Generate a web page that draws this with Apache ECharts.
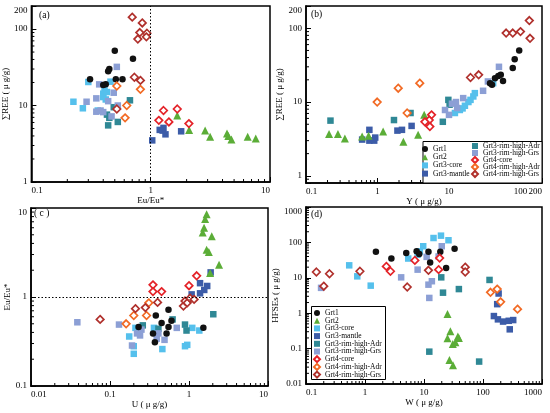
<!DOCTYPE html>
<html>
<head>
<meta charset="utf-8">
<script src="https://cdn.jsdelivr.net/npm/echarts/dist/echarts.min.js"></script>
<style>
html, body { margin: 0; padding: 0; background: #fff; }
#chart { width: 550px; height: 413px; }
</style>
</head>
<body>
<div id="chart"></div>
<script>
// group names, in legend order
const groups = ['Grt1', 'Grt2', 'Grt3-core', 'Grt3-mantle', 'Grt3-rim-high-Adr',
    'Grt3-rim-high-Grs', 'Grt4-core', 'Grt4-rim-high-Adr', 'Grt4-rim-high-Grs'];

// axis extents
const aX = [0.1, 10], aY = [1, 200];
const bX = [0.1, 200], bY = [0.8, 200];
const cX = [0.01, 10], cY = [0.1, 10];
const dX = [0.1, 1000], dY = [0.01, 1000];

// (a) Eu/Eu* vs ΣREE
const a_Grt1 = [[0.50, 52], [0.71, 41], [0.45, 30], [0.44, 28], [0.31, 22], [0.51, 22], [0.58, 22], [0.42, 19], [0.40, 18.5]];
const a_Grt2 = [[1.67, 7.4], [2.1, 4.8], [2.86, 4.7], [3.15, 3.9], [4.36, 4.3], [4.47, 4.0], [4.75, 3.6], [6.5, 3.9], [7.6, 3.7]];
const a_Grt3core = [[0.225, 11.2], [0.27, 9.2], [0.30, 20.3], [0.46, 20.5], [0.41, 16.3], [0.40, 14.3], [0.40, 12.9], [0.42, 12], [0.36, 8.6], [0.43, 15]];
const a_Grt3mantle = [[1.03, 3.5], [1.19, 4.8], [1.28, 5.1], [1.26, 4.7], [1.33, 4.2], [1.80, 4.6]];
const a_Grt3Adr = [[0.67, 11.7], [0.49, 9.5], [0.43, 7.6], [0.45, 6.9], [0.44, 5.5], [0.53, 6.1]];
const a_Grt3Grs = [[0.52, 32], [0.37, 18.9], [0.35, 12.4], [0.29, 11.2], [0.44, 11.4], [0.49, 14.7], [0.35, 8.3], [0.38, 8.6], [0.53, 10], [0.47, 7.2], [0.40, 8.2]];
const a_Grt4core = [[1.28, 8.6], [1.17, 6.4], [1.42, 6.1], [1.67, 9.0], [2.09, 5.8]];
const a_Grt4Adr = [[0.52, 18], [0.82, 16.3], [0.63, 10], [0.61, 6.9]];
const a_Grt4Grs = [[0.70, 143], [0.85, 120], [0.81, 90], [0.93, 88], [0.92, 79], [0.78, 74], [0.73, 23.4], [0.82, 21.3], [0.52, 9.0]];

// (b) Y vs ΣREE
const b_Grt1 = [[96, 50], [83, 38], [78, 29], [49, 22.6], [53, 23.4], [57, 19.2], [44, 21], [40, 17.1], [37.5, 18]];
const b_Grt2 = [[0.21, 3.7], [0.28, 3.7], [0.35, 3.2], [0.61, 3.4], [0.75, 3.5], [1.2, 4.0], [2.3, 2.9], [3.7, 3.6], [4.5, 6.7]];
const b_Grt3core = [[12.1, 7.1], [14.2, 7.8], [15.5, 8.2], [16.7, 8.9], [18.7, 10], [20, 10.7], [21.9, 11.9], [23, 13.2], [41.5, 18]];
const b_Grt3mantle = [[0.61, 3.1], [0.77, 4.2], [0.77, 3.0], [0.93, 3.3], [0.9, 3.0], [1.9, 4.1], [2.2, 4.2], [3.0, 4.75]];
const b_Grt3Adr = [[0.22, 5.6], [1.7, 5.7], [2.9, 7.1], [8.2, 5.4], [9.8, 10.7], [10.2, 9.2]];
const b_Grt3Grs = [[50, 30], [35, 19], [30, 14.2], [15.8, 11.3], [12.5, 10], [8.8, 7.8], [10, 6.7], [13, 8.3], [11, 9.5]];
const b_Grt4core = [[4.9, 5.2], [5.7, 6.7], [5.3, 5.7], [5.4, 4.65], [4.6, 5.4]];
const b_Grt4Adr = [[0.99, 10], [1.95, 15.4], [3.9, 18], [2.6, 7.1]];
const b_Grt4Grs = [[133, 127], [63, 86], [78, 86], [100, 90], [136, 73], [20, 21.5], [26, 23.4]];

// (c) U vs Eu/Eu*
const c_Grt1 = [[0.38, 0.62], [0.55, 0.72], [0.45, 0.51], [0.60, 0.54], [0.35, 0.39], [0.55, 0.46], [0.52, 0.39], [0.37, 0.31], [1.52, 0.45], [0.23, 0.46]];
const c_Grt2 = [[1.67, 8.5], [1.6, 7.5], [1.55, 6.0], [1.49, 5.3], [1.94, 4.8], [1.67, 3.4], [1.78, 3.2], [2.4, 2.3], [1.85, 1.86]];
const c_Grt3core = [[0.21, 0.45], [0.175, 0.36], [0.20, 0.28], [0.20, 0.23], [0.36, 0.45], [0.46, 0.26], [0.89, 0.28], [0.95, 0.29], [1.1, 0.45], [1.35, 0.42]];
const c_Grt3mantle = [[1.88, 1.89], [1.38, 1.43], [1.7, 1.33], [1.08, 1.07], [1.38, 1.1], [1.56, 1.2]];
const c_Grt3Adr = [[0.26, 0.48], [0.41, 0.44], [0.62, 0.56], [0.89, 0.49], [0.93, 0.42], [2.03, 0.64]];
const c_Grt3Grs = [[0.0386, 0.52], [0.13, 0.49], [0.19, 0.285], [0.22, 0.39], [0.25, 0.43], [0.39, 0.34], [0.41, 0.39], [0.49, 0.33], [0.70, 0.45], [0.24, 0.37]];
const c_Grt4core = [[1.25, 1.73], [1.0, 1.34], [0.35, 1.37], [0.35, 1.15], [0.45, 1.15]];
const c_Grt4Adr = [[0.16, 0.50], [0.20, 0.62], [0.29, 0.62], [0.31, 0.86]];
const c_Grt4Grs = [[0.075, 0.56], [0.21, 0.74], [0.28, 0.76], [0.40, 0.87], [0.85, 0.79], [0.89, 0.90], [0.95, 0.86], [1.03, 0.97], [1.16, 0.94]];

// (d) W vs HFSEs
const d_Grt1 = [[1.53, 54], [2.8, 35], [5.0, 50], [7.5, 56], [8.3, 47], [11.9, 54], [12.7, 27], [18.9, 54], [33, 66], [23.7, 19]];
const d_Grt2 = [[25, 0.95], [28, 0.31], [25, 0.195], [37.5, 0.22], [30.8, 0.135], [34, 0.15], [27, 0.048], [31, 0.034], [39, 0.2]];
const d_Grt3core = [[0.54, 22.5], [0.74, 11], [1.25, 6.0], [5.4, 35], [8.5, 56], [9.7, 78], [7.8, 45], [14.5, 133], [19.4, 155], [26, 115]];
const d_Grt3mantle = [[184, 3.6], [174, 1.8], [153, 0.83], [179, 0.67], [219, 0.58], [273, 0.61], [325, 0.64], [284, 0.35]];
const d_Grt3Adr = [[19.6, 10.3], [21, 3.8], [39, 4.8], [129, 8.7], [12.3, 0.082], [86, 0.043]];
const d_Grt3Grs = [[0.18, 5.2], [4.1, 10.3], [7.8, 17], [11.1, 39], [20, 78], [13.6, 8], [11.9, 6.4], [12.3, 2.7], [17.7, 40]];
const d_Grt4core = [[2.3, 21], [2.7, 15.3], [7.0, 31], [18.4, 36], [17.7, 17]];
const d_Grt4Adr = [[134, 3.9], [174, 4.8], [199, 2.1], [385, 1.3]];
const d_Grt4Grs = [[0.15, 14.6], [0.25, 13], [0.2, 5.8], [0.82, 15.3], [5.2, 5.5], [50, 20], [50, 14.6], [11.9, 16.3]];

const FONT = '"Liberation Serif", "DejaVu Serif", serif';

// marker look per group
const STYLE = {
    'Grt1': { symbol: 'circle', size: 6.5, color: '#111111' },
    'Grt2': { symbol: 'triangle', size: 8, color: '#5bad37' },
    'Grt3-core': { symbol: 'rect', size: 6.5, color: '#55c0ec' },
    'Grt3-mantle': { symbol: 'rect', size: 6.5, color: '#3c5ca8' },
    'Grt3-rim-high-Adr': { symbol: 'rect', size: 6.5, color: '#2f8895' },
    'Grt3-rim-high-Grs': { symbol: 'rect', size: 6.5, color: '#8c9fd5' },
    'Grt4-core': { symbol: 'diamond', size: 7.5, color: '#e42228', hollow: true },
    'Grt4-rim-high-Adr': { symbol: 'diamond', size: 7.5, color: '#f26a24', hollow: true },
    'Grt4-rim-high-Grs': { symbol: 'diamond', size: 7.5, color: '#b0302c', hollow: true }
};

const panels = [
    { x: aX, y: aY, xName: 'Eu/Eu*', yName: '∑REE ( μ g/g)', xGap: 10, yGap: 11, label: '(a)',
      sets: [a_Grt1, a_Grt2, a_Grt3core, a_Grt3mantle, a_Grt3Adr, a_Grt3Grs, a_Grt4core, a_Grt4Adr, a_Grt4Grs] },
    { x: bX, y: bY, xName: 'Y ( μ g/g)', yName: '∑REE ( μ g/g)', xGap: 6, yGap: 8, label: '(b)',
      sets: [b_Grt1, b_Grt2, b_Grt3core, b_Grt3mantle, b_Grt3Adr, b_Grt3Grs, b_Grt4core, b_Grt4Adr, b_Grt4Grs] },
    { x: cX, y: cY, xName: 'U ( μ g/g)', yName: 'Eu/Eu*', xGap: 11, yGap: 17, label: '( c )',
      sets: [c_Grt1, c_Grt2, c_Grt3core, c_Grt3mantle, c_Grt3Adr, c_Grt3Grs, c_Grt4core, c_Grt4Adr, c_Grt4Grs] },
    { x: dX, y: dY, xName: 'W ( μ g/g)', yName: 'HFSEs ( μ g/g)', xGap: 12, yGap: 14, label: '(d)',
      sets: [d_Grt1, d_Grt2, d_Grt3core, d_Grt3mantle, d_Grt3Adr, d_Grt3Grs, d_Grt4core, d_Grt4Adr, d_Grt4Grs] }
];

const grids = [
    { left: 31, top: 6, width: 239, height: 176 },
    { left: 306, top: 6, width: 236, height: 177 },
    { left: 31, top: 208, width: 237, height: 178 },
    { left: 306, top: 207, width: 236, height: 177 }
];

// only decades (and the 200 end value) get a label
function logLabel(v) {
    const e = Math.log10(v);
    if (Math.abs(e - Math.round(e)) < 1e-6 || Math.abs(v - 200) < 1e-6) {
        return String(+v.toPrecision(4));
    }
    return '';
}

function axis(gi, range, name, gap, isX) {
    return {
        type: 'log', logBase: 10, gridIndex: gi, min: range[0], max: range[1],
        name: name, nameLocation: 'middle', nameGap: gap,
        nameTextStyle: { fontFamily: FONT, fontSize: 9, color: '#000' },
        axisLine: { show: true, lineStyle: { color: '#000', width: 1.5 } },
        axisTick: { inside: true, length: 5, lineStyle: { color: '#000', width: 1 } },
        axisLabel: {
            fontFamily: FONT, fontSize: 9, color: '#000', margin: 4,
            formatter: logLabel, showMinLabel: true, showMaxLabel: true,
            alignMinLabel: isX ? 'left' : undefined,
            alignMaxLabel: isX ? 'right' : undefined,
            verticalAlignMaxLabel: isX ? undefined : 'top'
        },
        splitLine: { show: false }
    };
}

// small 2..9 ticks inside each log axis
function minorValues(lo, hi) {
    const out = [];
    for (let e = Math.floor(Math.log10(lo)); e <= Math.ceil(Math.log10(hi)); e++) {
        for (let k = 2; k <= 9; k++) {
            const v = +(k * Math.pow(10, e)).toPrecision(3);
            if (v > lo * 1.0001 && v < hi * 0.9999) out.push(v);
        }
    }
    return out;
}

function minorTicks(gi, xr, yr) {
    const data = minorValues(xr[0], xr[1]).map(v => [v, yr[0], 0])
        .concat(minorValues(yr[0], yr[1]).map(v => [xr[0], v, 1]));
    return {
        type: 'custom', xAxisIndex: gi, yAxisIndex: gi, silent: true, z: 1,
        data: data,
        renderItem(params, api) {
            const p = api.coord([api.value(0), api.value(1)]);
            const onX = api.value(2) === 0;
            return {
                type: 'line',
                shape: onX ? { x1: p[0], y1: p[1], x2: p[0], y2: p[1] - 3 }
                           : { x1: p[0], y1: p[1], x2: p[0] + 3, y2: p[1] },
                style: { stroke: '#000', lineWidth: 1 }
            };
        }
    };
}

const drawOrder = [2, 3, 4, 5, 0, 1, 6, 7, 8];
const series = [];
panels.forEach((p, gi) => {
    series.push(minorTicks(gi, p.x, p.y));
    drawOrder.forEach(k => {
        const name = groups[k];
        const s = STYLE[name];
        const item = {
            type: 'scatter', name: name, xAxisIndex: gi, yAxisIndex: gi,
            data: p.sets[k], symbol: s.symbol, symbolSize: s.size, z: 2,
            itemStyle: s.hollow
                ? { color: '#ffffff', borderColor: s.color, borderWidth: 1.7, opacity: 1 }
                : { color: s.color, opacity: 1 },
            emphasis: { disabled: true }
        };
        series.push(item);
    });
});

const dotted = { color: '#000', type: [1.5, 2], width: 1 };
// dotted reference lines at Eu/Eu* = 1
series.push({
    type: 'scatter', xAxisIndex: 0, yAxisIndex: 0, data: [], silent: true,
    markLine: { silent: true, symbol: 'none', label: { show: false }, lineStyle: dotted, data: [{ xAxis: 1 }] }
});
series.push({
    type: 'scatter', xAxisIndex: 2, yAxisIndex: 2, data: [], silent: true,
    markLine: { silent: true, symbol: 'none', label: { show: false }, lineStyle: dotted, data: [{ yAxis: 1 }] }
});

const legendText = { fontFamily: FONT, fontSize: 7.5, color: '#000', lineHeight: 7 };
const legendBase = {
    orient: 'vertical', padding: 0, itemWidth: 6, itemHeight: 6,
    textStyle: legendText, selectedMode: false, z: 6
};

const option = {
    backgroundColor: '#fff',
    animation: false,
    title: panels.map((p, i) => ({
        text: p.label, padding: 0,
        left: [39, 311, 34, 311][i], top: [10, 9, 208, 209][i],
        textStyle: { fontFamily: FONT, fontSize: 9.5, fontWeight: 'normal', color: '#000' }
    })),
    grid: grids.map(g => Object.assign({ show: true, borderColor: '#000', borderWidth: 1.5 }, g)),
    xAxis: panels.map((p, i) => axis(i, p.x, p.xName, p.xGap, true)),
    yAxis: panels.map((p, i) => axis(i, p.y, p.yName, p.yGap, false)),
    legend: [
        Object.assign({}, legendBase, { left: 422, top: 145, itemGap: 0.2, data: groups.slice(0, 4) }),
        Object.assign({}, legendBase, { left: 471, top: 142, itemGap: -1, data: groups.slice(4) }),
        Object.assign({}, legendBase, { left: 313, top: 309, itemGap: -0.3, data: groups })
    ],
    graphic: [
        { type: 'rect', z: 5, shape: { x: 423, y: 141.5, width: 119, height: 41.5 },
          style: { fill: '#fff', stroke: '#000', lineWidth: 1 } },
        { type: 'rect', z: 5, shape: { x: 311.5, y: 306.5, width: 74, height: 73 },
          style: { fill: '#fff', stroke: '#000', lineWidth: 1 } }
    ],
    series: series
};

const chart = echarts.init(document.getElementById('chart'));
chart.setOption(option);
</script>
</body>
</html>
